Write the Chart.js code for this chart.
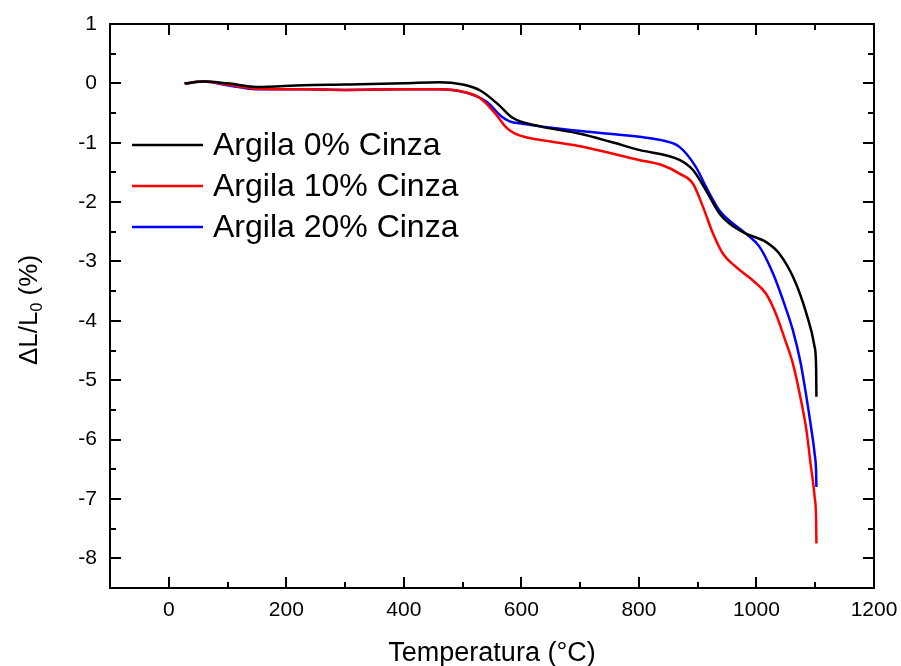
<!DOCTYPE html>
<html>
<head>
<meta charset="utf-8">
<script src="https://cdn.jsdelivr.net/npm/chart.js@4"></script>
<style>
  html, body { margin: 0; padding: 0; background: #fff; }
  #wrap { width: 901px; height: 666px; }
</style>
</head>
<body>
<div id="wrap"><canvas id="myChart" width="901" height="666"></canvas></div>
<script>
// Temperatura (°C) and ΔL/L0 (%)
const tempBlack = [27, 60, 100, 150, 230, 300, 400, 460, 500, 530, 560, 585, 630, 700, 750, 800, 869, 892, 914, 937, 954, 982, 1016, 1039, 1065, 1085, 1099, 1101.5, 1102];
const dlBlack   = [0, 0.03, 0, -0.06, -0.03, -0.02, 0, 0.02, -0.02, -0.12, -0.35, -0.58, -0.72, -0.85, -0.98, -1.12, -1.29, -1.46, -1.8, -2.19, -2.36, -2.53, -2.67, -2.87, -3.32, -3.88, -4.44, -4.78, -5.28];

const tempRed = [27, 60, 100, 150, 230, 300, 400, 460, 500, 530, 555, 575, 590, 650, 700, 800, 840, 869, 892, 909, 926, 943, 965, 994, 1016, 1033, 1048, 1062, 1075, 1085, 1092, 1099, 1101.5, 1102];
const dlRed   = [0, 0.03, -0.02, -0.09, -0.1, -0.11, -0.1, -0.1, -0.14, -0.25, -0.5, -0.75, -0.85, -0.98, -1.06, -1.29, -1.38, -1.52, -1.69, -2.08, -2.53, -2.87, -3.09, -3.32, -3.54, -3.88, -4.3, -4.72, -5.3, -5.84, -6.4, -6.97, -7.35, -7.75];

const tempBlue = [27, 60, 100, 150, 230, 300, 400, 460, 507, 541, 565, 580, 602, 687, 801, 840, 869, 897, 914, 937, 960, 982, 1005, 1028, 1050, 1062, 1075, 1085, 1093, 1099, 1101.5, 1102];
const dlBlue   = [0, 0.03, -0.03, -0.1, -0.1, -0.11, -0.1, -0.1, -0.16, -0.31, -0.55, -0.64, -0.68, -0.79, -0.9, -0.96, -1.07, -1.41, -1.74, -2.14, -2.36, -2.53, -2.75, -3.2, -3.79, -4.16, -4.7, -5.28, -5.8, -6.24, -6.55, -6.8];

const seriesNames = ['Argila 0% Cinza', 'Argila 10% Cinza', 'Argila 20% Cinza'];
const seriesColors = ['#000000', '#ff0000', '#0000ff'];

const xMajor = [0, 200, 400, 600, 800, 1000, 1200];
const xMinor = [100, 300, 500, 700, 900, 1100];
const yMajor = [1, 0, -1, -2, -3, -4, -5, -6, -7, -8];
const yMinor = [0.5, -0.5, -1.5, -2.5, -3.5, -4.5, -5.5, -6.5, -7.5];

const FONT = 'Arial, "Liberation Sans", sans-serif';

const toPoints = (xs, ys) => xs.map((x, i) => ({ x: x, y: ys[i] }));

// frame, inward ticks on all four sides, legend and y title
const framePlugin = {
    id: 'frame',
    afterDatasetsDraw(chart) {
        const ctx = chart.ctx;
        const a = chart.chartArea;
        const xs = chart.scales.x;
        const ys = chart.scales.y;
        ctx.save();
        ctx.strokeStyle = '#000';
        ctx.lineWidth = 2;
        ctx.strokeRect(a.left, a.top, a.right - a.left, a.bottom - a.top);

        const tick = (x1, y1, x2, y2) => {
            ctx.beginPath();
            ctx.moveTo(x1, y1);
            ctx.lineTo(x2, y2);
            ctx.stroke();
        };
        xMajor.forEach(v => {
            const p = Math.round(xs.getPixelForValue(v));
            tick(p, a.bottom, p, a.bottom - 11);
            tick(p, a.top, p, a.top + 11);
        });
        xMinor.forEach(v => {
            const p = Math.round(xs.getPixelForValue(v));
            tick(p, a.bottom, p, a.bottom - 6);
            tick(p, a.top, p, a.top + 6);
        });
        yMajor.forEach(v => {
            const p = Math.round(ys.getPixelForValue(v));
            tick(a.left, p, a.left + 11, p);
            tick(a.right, p, a.right - 11, p);
        });
        yMinor.forEach(v => {
            const p = Math.round(ys.getPixelForValue(v));
            tick(a.left, p, a.left + 6, p);
            tick(a.right, p, a.right - 6, p);
        });

        // legend
        ctx.lineWidth = 2.5;
        ctx.font = '32px ' + FONT;
        ctx.textBaseline = 'middle';
        ctx.textAlign = 'left';
        chart.data.datasets.forEach((ds, i) => {
            const y = 145 + i * 41;
            ctx.strokeStyle = ds.borderColor;
            tick(132, y, 203, y);
            ctx.fillStyle = '#000';
            ctx.fillText(ds.label, 213, y + 1);
        });

        // y title with subscript
        ctx.translate(28, 310);
        ctx.rotate(-Math.PI / 2);
        ctx.fillStyle = '#000';
        ctx.textBaseline = 'alphabetic';
        const p1 = '\u0394L/L';
        const p3 = ' (%)';
        ctx.font = '26px ' + FONT;
        const w1 = ctx.measureText(p1).width;
        const w3 = ctx.measureText(p3).width;
        ctx.font = '16px ' + FONT;
        const w2 = ctx.measureText('0').width;
        let x0 = -(w1 + w2 + w3) / 2;
        ctx.font = '26px ' + FONT;
        ctx.fillText(p1, x0, 9);
        ctx.font = '16px ' + FONT;
        ctx.fillText('0', x0 + w1, 14);
        ctx.font = '26px ' + FONT;
        ctx.fillText(p3, x0 + w1 + w2, 9);
        ctx.restore();
    }
};

const ctx = document.getElementById('myChart').getContext('2d');
new Chart(ctx, {
    type: 'line',
    data: {
        datasets: [
            { label: seriesNames[0], data: toPoints(tempBlack, dlBlack), borderColor: seriesColors[0] },
            { label: seriesNames[1], data: toPoints(tempRed, dlRed), borderColor: seriesColors[1] },
            { label: seriesNames[2], data: toPoints(tempBlue, dlBlue), borderColor: seriesColors[2] }
        ]
    },
    options: {
        responsive: false,
        animation: false,
        layout: { padding: { top: 24, right: 27, left: 0, bottom: 0 } },
        elements: {
            line: { borderWidth: 2.5, cubicInterpolationMode: 'monotone', fill: false },
            point: { radius: 0 }
        },
        plugins: {
            legend: { display: false },
            tooltip: { enabled: false }
        },
        scales: {
            x: {
                type: 'linear',
                min: -100,
                max: 1200,
                grid: { display: false, drawTicks: false },
                border: { display: false },
                afterBuildTicks: scale => { scale.ticks = xMajor.map(v => ({ value: v })); },
                ticks: {
                    color: '#000',
                    padding: 10,
                    font: { family: FONT, size: 21 },
                    maxRotation: 0,
                    autoSkip: false,
                    callback: v => String(v)
                },
                title: {
                    display: true,
                    text: 'Temperatura (°C)',
                    color: '#000',
                    font: { family: FONT, size: 27, lineHeight: 0.9 },
                    padding: { top: 0, bottom: 0 }
                },
                afterFit: scale => {
                    scale.height = 78;
                    scale.paddingLeft = 0;
                    scale.paddingRight = 0;
                }
            },
            y: {
                min: -8.5,
                max: 1,
                grid: { display: false, drawTicks: false },
                border: { display: false },
                afterBuildTicks: scale => { scale.ticks = yMajor.map(v => ({ value: v })); },
                ticks: {
                    color: '#000',
                    padding: 13,
                    font: { family: FONT, size: 21 },
                    autoSkip: false,
                    callback: v => String(v)
                },
                afterFit: scale => {
                    scale.width = 110;
                    scale.paddingTop = 0;
                    scale.paddingBottom = 0;
                }
            }
        }
    },
    plugins: [framePlugin]
});
</script>
</body>
</html>
